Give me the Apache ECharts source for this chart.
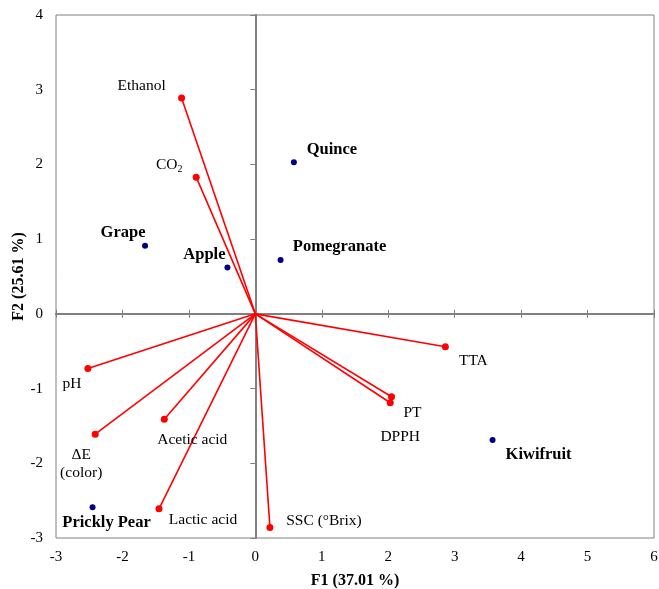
<!DOCTYPE html>
<html><head><meta charset="utf-8">
<script src="https://cdn.jsdelivr.net/npm/echarts@6/dist/echarts.min.js"></script>
<style>html,body{margin:0;padding:0;background:#fff}#c{width:659px;height:589px}</style>
</head><body><div id="c"></div>
<script>
// ---- data ----
const varNames = ['Ethanol', 'CO2', 'pH', 'ΔE\n(color)', 'Acetic acid', 'Lactic acid', 'SSC (°Brix)', 'TTA', 'PT', 'DPPH'];
const varF1 = [-1.11, -0.89, -2.52, -2.41, -1.37, -1.45, 0.22, 2.86, 2.05, 2.03];
const varF2 = [2.89, 1.83, -0.73, -1.61, -1.41, -2.61, -2.86, -0.44, -1.11, -1.19];
const obsNames = ['Quince', 'Grape', 'Apple', 'Pomegranate', 'Prickly Pear', 'Kiwifruit'];
const obsF1 = [0.58, -1.66, -0.42, 0.38, -2.45, 3.57];
const obsF2 = [2.03, 0.91, 0.62, 0.72, -2.59, -1.69];
const xTicks = [-3, -2, -1, 0, 1, 2, 3, 4, 5, 6];
const yTicks = [-3, -2, -1, 0, 1, 2, 3, 4];
const xTitle = 'F1 (37.01 %)';
const yTitle = 'F2 (25.61 %)';

// ---- label placement (pixel offsets, style only) ----
const varLabelOffsets = [[-40, -12], [-27, -12], [-16, 16], [-14, 30], [28, 21], [44, 11], [54, -7], [28, 14], [21, 16], [10, 34]];
const obsLabelOffsets = [[38, -12], [-22, -13], [-23, -13], [59, -13], [14, 15], [46, 15]];

const FONT = '"Liberation Serif", "Times New Roman", serif';
const GRAY = '#808080';
const TXT = '#000';

const chart = echarts.init(document.getElementById('c'), null, {renderer: 'canvas'});

const baseAxis = {
  type: 'value', min: xTicks[0], max: xTicks[xTicks.length - 1], interval: 1,
  splitLine: {show: false}
};

const xAxes = [
  Object.assign({}, baseAxis, {
    position: 'bottom',
    axisLine: {show: false, onZero: false},
    axisTick: {show: false},
    axisLabel: {show: true, margin: 12, color: TXT, fontFamily: FONT, fontSize: 15},
    name: xTitle, nameLocation: 'middle', nameGap: 35, nameMoveOverlap: false,
    nameTextStyle: {fontFamily: FONT, fontSize: 16, fontWeight: 'bold', color: TXT}
  }),
  Object.assign({}, baseAxis, {
    position: 'bottom',
    axisLine: {show: true, onZero: true, onZeroAxisIndex: 0, lineStyle: {color: GRAY, width: 2}},
    axisTick: {show: true, inside: false, length: 4, lineStyle: {color: GRAY, width: 1}},
    axisLabel: {show: false}
  }),
  Object.assign({}, baseAxis, {
    position: 'bottom',
    axisLine: {show: true, onZero: true, onZeroAxisIndex: 0, lineStyle: {color: GRAY, width: 2}},
    axisTick: {show: true, inside: true, length: 4, lineStyle: {color: GRAY, width: 1}},
    axisLabel: {show: false}
  })
];
const yBase = {
  type: 'value', min: yTicks[0], max: yTicks[yTicks.length - 1], interval: 1,
  splitLine: {show: false}
};
const yAxes = [
  Object.assign({}, yBase, {
    position: 'left',
    axisLine: {show: false, onZero: false},
    axisTick: {show: false},
    axisLabel: {show: true, margin: 13, color: TXT, fontFamily: FONT, fontSize: 15},
    name: yTitle, nameLocation: 'middle', nameGap: 29, nameRotate: 90, nameMoveOverlap: false,
    nameTextStyle: {fontFamily: FONT, fontSize: 16, fontWeight: 'bold', color: TXT}
  }),
  Object.assign({}, yBase, {
    position: 'left',
    axisLine: {show: true, onZero: true, onZeroAxisIndex: 0, lineStyle: {color: GRAY, width: 2}},
    axisTick: {show: true, inside: false, length: 5, lineStyle: {color: GRAY, width: 1}},
    axisLabel: {show: false}
  })
];

const rich = {
  n: {fontFamily: FONT, fontSize: 15.5, color: TXT, lineHeight: 18, verticalAlign: 'middle', textBorderWidth: 0},
  s: {fontFamily: FONT, fontSize: 10, color: TXT, lineHeight: 8, verticalAlign: 'bottom', textBorderWidth: 0}
};

const varData = varNames.map((n, i) => ({
  value: [varF1[i], varF2[i]],
  name: n,
  label: {
    show: true, position: 'inside', offset: varLabelOffsets[i],
    align: 'center', verticalAlign: 'middle',
    formatter: n === 'CO2' ? '{n|CO}{s|2}' : n,
    fontFamily: FONT, fontSize: 15.5, color: TXT, lineHeight: 18,
    textBorderWidth: 0, textBorderColor: 'transparent',
    rich: n === 'CO2' ? rich : undefined
  }
}));

const obsData = obsNames.map((n, i) => ({
  value: [obsF1[i], obsF2[i]],
  name: n,
  label: {
    show: true, position: 'inside', offset: obsLabelOffsets[i],
    align: 'center', verticalAlign: 'middle', formatter: n,
    fontFamily: FONT, fontSize: 16.5, fontWeight: 'bold', color: '#000',
    textBorderWidth: 0, textBorderColor: 'transparent'
  }
}));

const lineData = varNames.map((n, i) => ({coords: [[0, 0], [varF1[i], varF2[i]]]}));

chart.setOption({
  animation: false,
  backgroundColor: '#fff',
  grid: {left: 56, top: 15, right: 5, bottom: 51, show: true, borderColor: GRAY, borderWidth: 1,
         containLabel: false, outerBoundsMode: 'none'},
  xAxis: xAxes,
  yAxis: yAxes,
  series: [
    {
      type: 'lines', coordinateSystem: 'cartesian2d', xAxisIndex: 0, yAxisIndex: 0,
      data: lineData, z: 2,
      lineStyle: {color: '#ff0000', width: 1.6, opacity: 1}
    },
    {
      type: 'scatter', xAxisIndex: 0, yAxisIndex: 0, data: varData, z: 3,
      symbol: 'circle', symbolSize: 7, itemStyle: {color: '#ff0000', opacity: 1}
    },
    {
      type: 'scatter', xAxisIndex: 0, yAxisIndex: 0, data: obsData, z: 3,
      symbol: 'circle', symbolSize: 6, itemStyle: {color: '#000080', opacity: 1}
    }
  ]
});
</script>
</body></html>
